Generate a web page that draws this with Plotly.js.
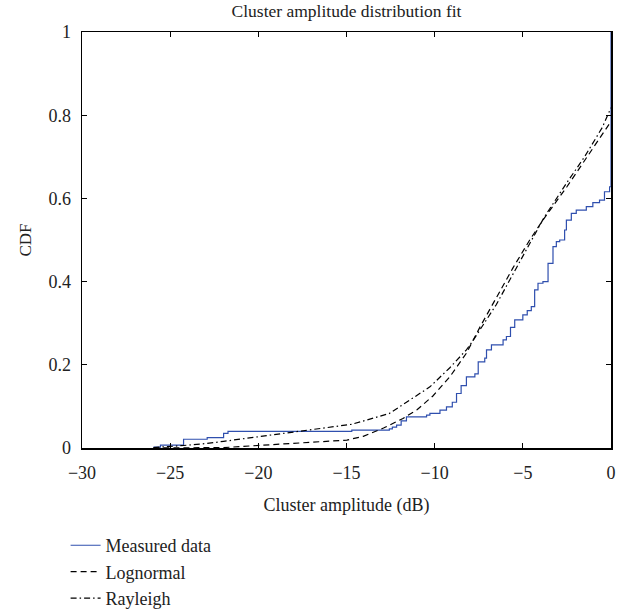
<!DOCTYPE html>
<html>
<head>
<meta charset="utf-8">
<script src="https://cdn.plot.ly/plotly-3.0.1.min.js"></script>
<style>html,body{margin:0;padding:0;background:#fff;}#chart{width:626px;height:613px;}</style>
</head>
<body>
<div id="chart"></div>
<script>
const measuredX = [-25.95, -25.55, -24.24, -22.9, -21.97, -21.72, -14.7, -12.57, -12.4, -12.16, -11.9, -11.6, -10.46, -10.27, -9.7, -9.33, -9.0, -8.76, -8.5, -8.2, -7.72, -7.53, -7.16, -7.06, -6.78, -6.12, -5.93, -5.7, -5.46, -5.0, -4.75, -4.52, -4.33, -4.14, -3.86, -3.57, -3.29, -3.1, -2.91, -2.63, -2.53, -2.25, -1.97, -1.4, -1.03, -0.65, -0.37, -0.08, 0];
const measuredY = [0.002, 0.007, 0.021, 0.025, 0.035, 0.040, 0.043, 0.046, 0.05, 0.055, 0.065, 0.075, 0.079, 0.083, 0.091, 0.099, 0.11, 0.131, 0.15, 0.171, 0.178, 0.207, 0.216, 0.236, 0.248, 0.260, 0.268, 0.29, 0.308, 0.320, 0.33, 0.340, 0.380, 0.396, 0.400, 0.444, 0.484, 0.496, 0.5, 0.524, 0.548, 0.564, 0.572, 0.580, 0.590, 0.596, 0.616, 0.628, 1.0];

const lognormalX = [-25.95, -21.97, -14.98, -14.7, -14.05, -12.9, -11.8, -11.0, -10.1, -9.14, -8.2, -7.44, -6.5, -5.56, -4.61, -3.86, -2.5, -1.5, -0.5, 0];
const lognormalY = [0.0, 0.001, 0.019, 0.022, 0.028, 0.048, 0.071, 0.092, 0.125, 0.171, 0.228, 0.29, 0.36, 0.433, 0.50, 0.548, 0.628, 0.69, 0.755, 0.785];

const rayleighX = [-25.95, -25.55, -24.24, -22.9, -21.97, -14.7, -12.57, -11.6, -10.27, -9.14, -8.2, -7.83, -6.5, -5.56, -4.61, -3.77, -2.5, -1.5, -0.5, -0.2, 0];
const rayleighY = [0.001, 0.002, 0.006, 0.011, 0.016, 0.057, 0.083, 0.11, 0.147, 0.193, 0.236, 0.258, 0.345, 0.418, 0.492, 0.556, 0.638, 0.70, 0.77, 0.80, 0.818];

const seriesNames = ["Measured data", "Lognormal", "Rayleigh"];
const xTicks = [-30, -25, -20, -15, -10, -5, 0];
const yTicks = [0, 0.2, 0.4, 0.6, 0.8, 1];

const font = "Liberation Serif, Times New Roman, serif";

const traces = [
  {x: measuredX, y: measuredY, name: seriesNames[0], mode: "lines",
   line: {color: "#2f4fae", width: 1.2, shape: "hv"}},
  {x: lognormalX, y: lognormalY, name: seriesNames[1], mode: "lines",
   line: {color: "#000", width: 1.2, dash: "6px,4px"}},
  {x: rayleighX, y: rayleighY, name: seriesNames[2], mode: "lines",
   line: {color: "#000", width: 1.2, dash: "6px,3px,1.5px,3px"}}
];

const axisCommon = {
  showgrid: false, zeroline: false, showline: true, linecolor: "#000", linewidth: 1.5,
  mirror: "ticks", ticks: "inside", ticklen: 5, tickwidth: 1, tickcolor: "#000",
  tickfont: {family: font, size: 18, color: "#222"}, automargin: false
};

const layout = {
  width: 626, height: 613,
  margin: {l: 82, r: 15, t: 32, b: 165, autoexpand: false},
  paper_bgcolor: "#fff", plot_bgcolor: "#fff",
  font: {family: font, color: "#222"},
  title: {text: "Cluster amplitude distribution fit", font: {family: font, size: 17.5, color: "#222"},
          xref: "paper", x: 0.5, xanchor: "center", y: 0.992, yanchor: "top"},
  xaxis: Object.assign({}, axisCommon, {range: [-30, 0], tickvals: xTicks, ticklabelstandoff: 8,
          title: {text: "Cluster amplitude (dB)", font: {family: font, size: 18, color: "#222"}, standoff: 16}}),
  yaxis: Object.assign({}, axisCommon, {range: [0, 1], tickvals: yTicks, ticklabelstandoff: 6,
          title: {text: "CDF", font: {family: font, size: 17, color: "#222"}, standoff: 12}}),
  showlegend: true,
  legend: {x: -0.031, y: -0.19, xanchor: "left", yanchor: "top", orientation: "v",
           font: {family: font, size: 18, color: "#222"}, bgcolor: "rgba(0,0,0,0)",
           tracegroupgap: 0, itemwidth: 30}
};

Plotly.newPlot("chart", traces, layout, {displayModeBar: false, staticPlot: true});
</script>
</body>
</html>
